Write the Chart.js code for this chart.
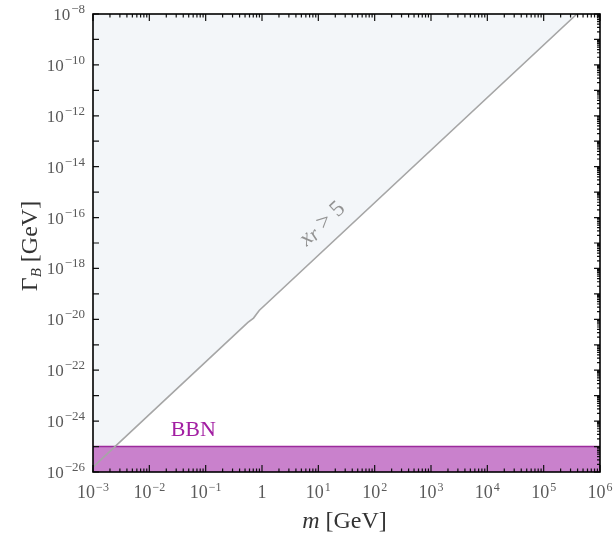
<!DOCTYPE html>
<html>
<head>
<meta charset="utf-8">
<script src="https://cdn.jsdelivr.net/npm/chart.js@4"></script>
<style>
html, body { margin: 0; padding: 0; background: #fff; }
</style>
</head>
<body>
<canvas id="grafica" width="615" height="534"></canvas>
<script>
// boundary of the x_r > 5 region (log10 of m and of Gamma_B)
var logM = [-3, -0.25, -0.15, -0.05, 5.59];
var logGamma = [-25.81, -20.12, -19.95, -19.65, -8];

// BBN bound
var bbnLogM = [-3, 6];
var bbnLogGamma = [-25, -25];

// tick exponents
var xTickExp = [-3, -2, -1, 0, 1, 2, 3, 4, 5, 6];
var yTickExp = [-26, -24, -22, -20, -18, -16, -14, -12, -10, -8];
var yDecades = [];
for (var d = -26; d <= -8; d++) yDecades.push(d);

// text labels positions (log10 values)
var bbnLabel = { text: "BBN", lm: -1.22, lg: -24.35 };
var xrLabel = { lm: 1.07, lg: -16.25 };

var serif = "'Liberation Serif', 'DejaVu Serif', serif";

function pts(xs, ys) {
    return xs.map(function(v, i) { return { x: Math.pow(10, v), y: Math.pow(10, ys[i]) }; });
}

function expText(e) {
    return e < 0 ? "\u2212" + String(-e) : String(e);
}

// draws 10^e ; align "center" or "right"
function drawPow(ctx, e, x, y, align, bs, ss) {
    var base = "10", sup = expText(e);
    ctx.font = bs + "px " + serif;
    var wb = ctx.measureText(base).width;
    ctx.font = ss + "px " + serif;
    var ws = ctx.measureText(sup).width;
    var w = wb + ws + 1;
    var x0 = align == "right" ? x - w : x - w / 2;
    ctx.textAlign = "left";
    ctx.textBaseline = "alphabetic";
    ctx.font = bs + "px " + serif;
    ctx.fillText(base, x0, y);
    ctx.font = ss + "px " + serif;
    ctx.fillText(sup, x0 + wb + 1, y - 7);
}

var framePlugin = {
    id: "frame",
    afterDraw: function(chart) {
        var ctx = chart.ctx;
        var a = chart.chartArea;
        var xs = chart.scales.x, ys = chart.scales.y;
        ctx.save();

        // ticks
        ctx.strokeStyle = "#111";
        ctx.lineWidth = 1.2;
        ctx.beginPath();
        for (var e = -3; e <= 6; e++) {
            var px = xs.getPixelForValue(Math.pow(10, e));
            ctx.moveTo(px, a.bottom); ctx.lineTo(px, a.bottom - 7);
            ctx.moveTo(px, a.top); ctx.lineTo(px, a.top + 7);
            if (e < 6) {
                for (var k = 2; k <= 9; k++) {
                    var pm = xs.getPixelForValue(k * Math.pow(10, e));
                    ctx.moveTo(pm, a.bottom); ctx.lineTo(pm, a.bottom - 3.5);
                    ctx.moveTo(pm, a.top); ctx.lineTo(pm, a.top + 3.5);
                }
            }
        }
        yDecades.forEach(function(e) {
            var py = ys.getPixelForValue(Math.pow(10, e));
            ctx.moveTo(a.left, py); ctx.lineTo(a.left + 6, py);
            ctx.moveTo(a.right, py); ctx.lineTo(a.right - 6, py);
            if (e < -8) {
                for (var k = 2; k <= 9; k++) {
                    var pm = ys.getPixelForValue(k * Math.pow(10, e));
                    ctx.moveTo(a.right, pm); ctx.lineTo(a.right - 3, pm);
                }
            }
        });
        ctx.stroke();

        // frame
        ctx.lineWidth = 1.6;
        ctx.strokeStyle = "#000";
        ctx.strokeRect(a.left, a.top, a.right - a.left, a.bottom - a.top);

        // tick labels
        ctx.fillStyle = "#5a5a5a";
        xs.ticks.forEach(function(t) {
            var e = Math.round(Math.log10(t.value));
            var px = xs.getPixelForValue(t.value);
            if (e == 0) {
                ctx.font = "18px " + serif;
                ctx.textAlign = "center";
                ctx.textBaseline = "alphabetic";
                ctx.fillText("1", px, a.bottom + 26);
            } else {
                drawPow(ctx, e, px, a.bottom + 26, "center", 18, 12);
            }
        });
        ys.ticks.forEach(function(t) {
            var e = Math.round(Math.log10(t.value));
            var py = ys.getPixelForValue(t.value);
            drawPow(ctx, e, a.left - 8, py + 6, "right", 17, 13);
        });

        // axis titles
        ctx.fillStyle = "#333";
        ctx.textBaseline = "alphabetic";
        ctx.textAlign = "left";
        var cx = (a.left + a.right) / 2;
        ctx.font = "italic 24px " + serif;
        var wm = ctx.measureText("m").width;
        ctx.font = "24px " + serif;
        var wg = ctx.measureText(" [GeV]").width;
        var x0 = cx - (wm + wg) / 2 - 2;
        ctx.font = "italic 24px " + serif;
        ctx.fillText("m", x0, 528);
        ctx.font = "24px " + serif;
        ctx.fillText(" [GeV]", x0 + wm, 528);

        ctx.save();
        ctx.translate(37, (a.top + a.bottom) / 2 + 3);
        ctx.rotate(-Math.PI / 2);
        ctx.font = "24px " + serif;
        var w1 = ctx.measureText("\u0393").width;
        var w3 = ctx.measureText(" [GeV]").width;
        ctx.font = "italic 15px " + serif;
        var w2 = ctx.measureText("B").width;
        var t0 = -(w1 + w2 + w3) / 2;
        ctx.font = "24px " + serif;
        ctx.fillText("\u0393", t0, 0);
        ctx.font = "italic 15px " + serif;
        ctx.fillText("B", t0 + w1, 4);
        ctx.font = "24px " + serif;
        ctx.fillText(" [GeV]", t0 + w1 + w2, 0);
        ctx.restore();

        // BBN label
        ctx.fillStyle = "#a21ea2";
        ctx.font = "22px " + serif;
        ctx.textAlign = "center";
        ctx.textBaseline = "middle";
        ctx.fillText(bbnLabel.text, xs.getPixelForValue(Math.pow(10, bbnLabel.lm)),
                     ys.getPixelForValue(Math.pow(10, bbnLabel.lg)));

        // x_r > 5 label along the boundary
        var p0x = xs.getPixelForValue(Math.pow(10, logM[0]));
        var p0y = ys.getPixelForValue(Math.pow(10, logGamma[0]));
        var p1x = xs.getPixelForValue(Math.pow(10, logM[logM.length - 1]));
        var p1y = ys.getPixelForValue(Math.pow(10, logGamma[logGamma.length - 1]));
        var ang = Math.atan2(p1y - p0y, p1x - p0x);
        ctx.save();
        ctx.translate(xs.getPixelForValue(Math.pow(10, xrLabel.lm)), ys.getPixelForValue(Math.pow(10, xrLabel.lg)));
        ctx.rotate(ang);
        ctx.fillStyle = "#939393";
        ctx.textAlign = "left";
        ctx.textBaseline = "alphabetic";
        ctx.font = "italic 23px " + serif;
        var wx = ctx.measureText("x").width;
        ctx.font = "italic 20px " + serif;
        var wr = ctx.measureText("r").width;
        ctx.font = "23px " + serif;
        var wt = ctx.measureText(" > 5").width;
        var s0 = -(wx + wr + wt) / 2;
        ctx.font = "italic 23px " + serif;
        ctx.fillText("x", s0, 6);
        ctx.font = "italic 20px " + serif;
        ctx.fillText("r", s0 + wx, 8);
        ctx.font = "23px " + serif;
        ctx.fillText(" > 5", s0 + wx + wr, 6);
        ctx.restore();

        ctx.restore();
    }
};

var ctx = document.getElementById("grafica").getContext("2d");
var chart = new Chart(ctx, {
    type: "line",
    data: {
        datasets: [
            {
                label: "region",
                data: pts(logM, logGamma),
                borderWidth: 0,
                borderColor: "rgba(0,0,0,0)",
                backgroundColor: "#f3f6f9",
                fill: "end",
                pointRadius: 0,
                tension: 0,
                order: 3
            },
            {
                label: "BBN",
                data: pts(bbnLogM, bbnLogGamma),
                borderColor: "#9c2a9c",
                borderWidth: 1.6,
                backgroundColor: "#c981cc",
                fill: "start",
                pointRadius: 0,
                tension: 0,
                order: 2
            },
            {
                label: "boundary",
                data: pts(logM, logGamma),
                borderColor: "#a6a6a6",
                borderWidth: 1.6,
                fill: false,
                pointRadius: 0,
                tension: 0,
                order: 1
            }
        ]
    },
    options: {
        animation: false,
        responsive: false,
        devicePixelRatio: 1,
        layout: { padding: { left: 0, top: 14, right: 15, bottom: 0 } },
        plugins: {
            legend: { display: false },
            tooltip: { enabled: false }
        },
        scales: {
            x: {
                type: "logarithmic",
                min: 1e-3,
                max: 1e6,
                afterBuildTicks: function(s) {
                    s.ticks = xTickExp.map(function(e) { return { value: Math.pow(10, e) }; });
                },
                afterFit: function(s) { s.height = 62; },
                ticks: { display: false },
                grid: { display: false },
                border: { display: false }
            },
            y: {
                type: "logarithmic",
                min: 1e-26,
                max: 1e-8,
                afterBuildTicks: function(s) {
                    s.ticks = yTickExp.map(function(e) { return { value: Math.pow(10, e) }; });
                },
                afterFit: function(s) { s.width = 93; },
                ticks: { display: false },
                grid: { display: false },
                border: { display: false }
            }
        }
    },
    plugins: [framePlugin]
});
</script>
</body>
</html>
